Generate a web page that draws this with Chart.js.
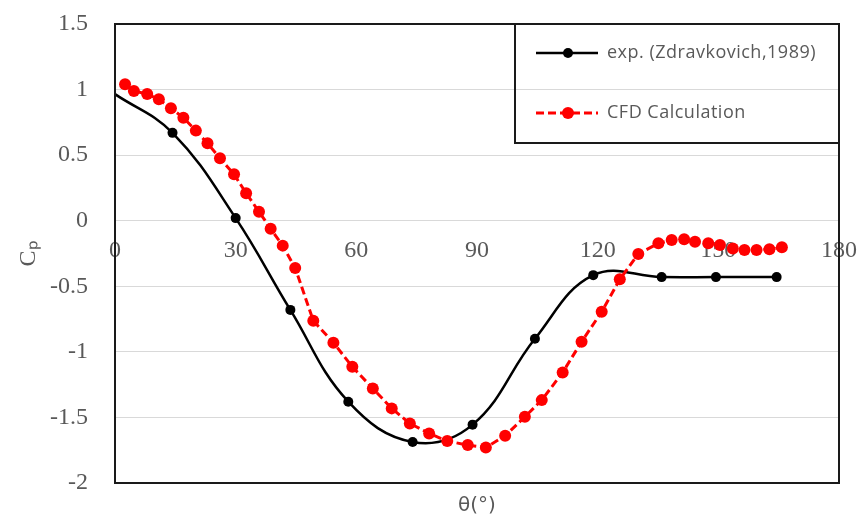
<!DOCTYPE html>
<html lang="en">

<head>
    <meta charset="UTF-8">
    <title>Cp distribution</title>
    <script src="https://cdn.jsdelivr.net/npm/chart.js"></script>
    <style>
        html, body {
            margin: 0;
            padding: 0;
            background: #fff;
        }

        #wrap {
            width: 862px;
            height: 524px;
        }
    </style>
</head>

<body>
    <div id="wrap">
        <canvas id="chart"></canvas>
    </div>

    <script>
        // experimental values (Zdravkovich, 1989)
        const expTheta = [0, 14.3, 30, 43.6, 58, 74, 88.9, 104.4, 118.9, 135.9, 149.4, 164.5];
        const expCp = [0.965, 0.67, 0.02, -0.68, -1.38, -1.687, -1.555, -0.9, -0.415, -0.43, -0.43, -0.43];

        // CFD results
        const cfdTheta = [2.5, 4.7, 8, 10.9, 13.9, 17, 20.1, 23, 26.1, 29.6, 32.6, 35.8, 38.7, 41.7, 44.8,
            49.3, 54.3, 59, 64.1, 68.8, 73.3, 78.1, 82.6, 87.7, 92.2, 97, 101.9, 106.1, 111.3, 116,
            121, 125.5, 130.1, 135.1, 138.4, 141.5, 144.2, 147.5, 150.4, 153.6, 156.5, 159.5, 162.7, 165.8];
        const cfdCp = [1.04, 0.99, 0.966, 0.926, 0.857, 0.786, 0.687, 0.59, 0.476, 0.354, 0.209, 0.069, -0.061, -0.19, -0.36,
            -0.763, -0.93, -1.114, -1.279, -1.431, -1.546, -1.622, -1.68, -1.711, -1.729, -1.64, -1.495, -1.368, -1.157, -0.923,
            -0.694, -0.447, -0.254, -0.172, -0.147, -0.142, -0.16, -0.172, -0.185, -0.211, -0.223, -0.223, -0.218, -0.203];

        const seriesNames = ['exp. (Zdravkovich,1989)', 'CFD Calculation'];
        const xTitle = 'θ(°)';
        const yTitle = 'Cₚ';

        const toPoints = (xs, ys) => xs.map((x, i) => ({ x: x, y: ys[i] }));

        // frame around the plot area
        const plotFrame = {
            id: 'plotFrame',
            afterDatasetsDraw(chart) {
                const { ctx, chartArea: a } = chart;
                ctx.save();
                ctx.strokeStyle = '#1a1a1a';
                ctx.lineWidth = 2;
                ctx.strokeRect(a.left, a.top, a.right - a.left, a.bottom - a.top);
                ctx.restore();
            }
        };

        // boxed legend in the top right corner of the plot
        const boxLegend = {
            id: 'boxLegend',
            afterDraw(chart) {
                const { ctx, chartArea: a } = chart;
                const w = 324, h = 119;
                const x0 = a.right - w, y0 = a.top;
                ctx.save();
                ctx.strokeStyle = '#1a1a1a';
                ctx.lineWidth = 2;
                ctx.strokeRect(x0, y0, w, h);
                chart.data.datasets.forEach((ds, i) => {
                    const y = y0 + 29 + i * 60;
                    ctx.strokeStyle = ds.borderColor;
                    ctx.lineWidth = ds.borderWidth;
                    ctx.setLineDash(ds.borderDash || []);
                    ctx.beginPath();
                    ctx.moveTo(x0 + 21, y);
                    ctx.lineTo(x0 + 83, y);
                    ctx.stroke();
                    ctx.setLineDash([]);
                    ctx.fillStyle = ds.pointBackgroundColor;
                    ctx.beginPath();
                    ctx.arc(x0 + 53, y, ds.legendRadius, 0, Math.PI * 2);
                    ctx.fill();
                    ctx.fillStyle = '#595959';
                    ctx.font = '18px "Open Sans"';
                    ctx.letterSpacing = '0.5px';
                    ctx.textBaseline = 'middle';
                    ctx.fillText(ds.label, x0 + 92, y);
                });
                ctx.restore();
            }
        };

        new Chart(document.getElementById('chart'), {
            type: 'line',
            data: {
                datasets: [{
                    label: seriesNames[0],
                    data: toPoints(expTheta, expCp),
                    borderColor: '#000',
                    backgroundColor: '#000',
                    pointBackgroundColor: '#000',
                    pointBorderWidth: 0,
                    pointRadius: ctx => ctx.dataIndex === 0 ? 0 : 5,
                    legendRadius: 5,
                    borderWidth: 2.5,
                    tension: 0.4,
                    order: 2
                }, {
                    label: seriesNames[1],
                    data: toPoints(cfdTheta, cfdCp),
                    borderColor: '#ff0000',
                    backgroundColor: '#ff0000',
                    pointBackgroundColor: '#ff0000',
                    pointBorderWidth: 0,
                    pointRadius: 6,
                    legendRadius: 6,
                    borderWidth: 3,
                    borderDash: [8, 4],
                    tension: 0,
                    order: 1
                }]
            },
            options: {
                responsive: true,
                maintainAspectRatio: false,
                animation: false,
                layout: {
                    padding: { left: 0, top: 24, right: 23, bottom: 0 }
                },
                plugins: {
                    legend: { display: false },
                    tooltip: { enabled: false },
                    title: {
                        display: true,
                        position: 'bottom',
                        fullSize: false,
                        text: xTitle,
                        color: '#595959',
                        font: { family: 'DejaVu Sans', size: 20, weight: 'normal' },
                        padding: { top: 11, bottom: 6 }
                    }
                },
                scales: {
                    x: {
                        type: 'linear',
                        position: { y: 0 },
                        min: 0,
                        max: 180,
                        afterFit(scale) { scale.paddingLeft = 0; scale.paddingRight = 0; },
                        grid: { display: false },
                        border: { display: false },
                        ticks: {
                            stepSize: 30,
                            padding: 8,
                            color: '#595959',
                            font: { family: 'Liberation Serif', size: 24 }
                        }
                    },
                    y: {
                        min: -2,
                        max: 1.5,
                        afterFit(scale) { scale.width = 115; scale.paddingTop = 0; scale.paddingBottom = 0; },
                        grid: { color: '#d9d9d9', lineWidth: 1, drawTicks: false },
                        border: { display: false },
                        ticks: {
                            stepSize: 0.5,
                            padding: 27,
                            color: '#595959',
                            font: { family: 'Liberation Serif', size: 24 },
                            callback: v => String(+v.toFixed(2))
                        },
                        title: {
                            display: true,
                            text: yTitle,
                            color: '#595959',
                            font: { family: 'Liberation Serif', size: 24 },
                            padding: { top: 14, bottom: 0 }
                        }
                    }
                }
            },
            plugins: [plotFrame, boxLegend]
        });
    </script>
</body>

</html>
